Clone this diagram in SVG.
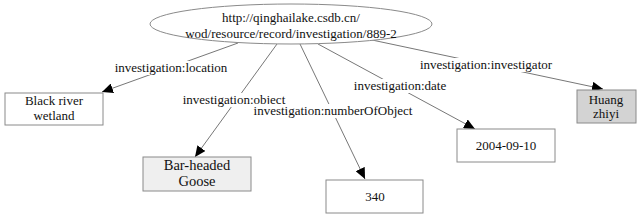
<svg xmlns="http://www.w3.org/2000/svg" width="640" height="220" viewBox="0 0 640 220">
<style>
text{font-family:"Liberation Serif","Times New Roman",serif;font-size:13px;fill:#111;text-anchor:middle}
.node{stroke:#8a8a8a;stroke-width:1}
.edge{stroke:#777;stroke-width:1;fill:none}
.lbg{fill:#fff}
</style>
<defs>
<marker id="arr" markerUnits="userSpaceOnUse" markerWidth="12" markerHeight="10" refX="11" refY="5" orient="auto">
<path d="M0,0 L11,5 L0,10 Z" fill="#000"/>
</marker>
</defs>
<rect width="640" height="220" fill="#fff"/>
<g id="connectors">
<line class="edge" x1="238" y1="43" x2="102" y2="92" marker-end="url(#arr)"/>
<line class="edge" x1="277" y1="44" x2="195" y2="157" marker-end="url(#arr)"/>
<line class="edge" x1="300" y1="44" x2="365" y2="179" marker-end="url(#arr)"/>
<line class="edge" x1="318" y1="44" x2="475" y2="129" marker-end="url(#arr)"/>
<line class="edge" x1="372" y1="40" x2="603" y2="89" marker-end="url(#arr)"/>
<rect class="lbg" x="115" y="61" width="113" height="14"/>
<text x="171" y="72">investigation:location</text>
<rect class="lbg" x="183" y="93" width="103" height="14"/>
<text x="234" y="104">investigation:object</text>
<rect class="lbg" x="253" y="104" width="160" height="14"/>
<text x="333" y="115">investigation:numberOfObject</text>
<rect class="lbg" x="354" y="79" width="93" height="14"/>
<text x="400" y="90">investigation:date</text>
<rect class="lbg" x="420" y="58" width="133" height="14"/>
<text x="486" y="69">investigation:investigator</text>
</g>
<g id="subject">
<ellipse class="node" cx="291" cy="24" rx="141" ry="20" fill="#fff"/>
<text x="291" y="22">http://qinghailake.csdb.cn/</text>
<text x="291" y="38">wod/resource/record/investigation/889-2</text>
</g>
<g id="location">
<rect class="node" x="5" y="93" width="98" height="32" fill="#fff"/>
<text x="54" y="105">Black river</text>
<text x="54" y="120">wetland</text>
</g>
<g id="object">
<rect class="node" x="143" y="157" width="108" height="34" fill="#efefef"/>
<text x="197" y="170" style="font-size:14.5px">Bar-headed</text>
<text x="197" y="186" style="font-size:14.5px">Goose</text>
</g>
<g id="number">
<rect class="node" x="326" y="180" width="97" height="33" fill="#fff"/>
<text x="375" y="201">340</text>
</g>
<g id="date">
<rect class="node" x="457" y="129" width="98" height="33" fill="#fff"/>
<text x="506" y="150">2004-09-10</text>
</g>
<g id="investigator">
<rect class="node" x="577" y="90" width="59" height="33" fill="#d3d3d3"/>
<text x="606" y="104">Huang</text>
<text x="606" y="118">zhiyi</text>
</g>
</svg>
